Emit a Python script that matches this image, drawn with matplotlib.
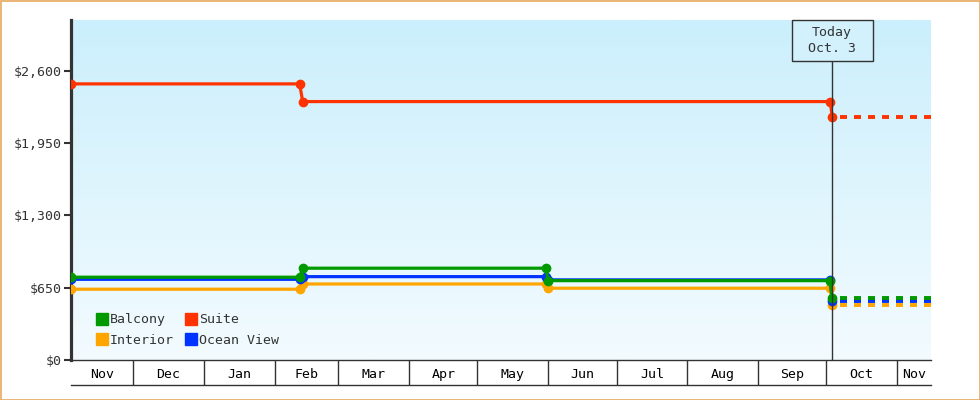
import numpy as np
import matplotlib
matplotlib.use("Agg")
import matplotlib.pyplot as plt
import matplotlib.dates as mdates
from matplotlib.lines import Line2D
from matplotlib.patches import Rectangle
from datetime import datetime

# chart window and today marker
x_start = datetime(2014, 11, 3, 17)
x_end = datetime(2015, 11, 15, 22)
today = datetime(2015, 10, 3, 14)
today_label = "Today\nOct. 3"

# price change points (old value on first day, new value on next)
dates = [datetime(2014, 11, 3, 17), datetime(2015, 2, 12), datetime(2015, 2, 13, 8),
         datetime(2015, 5, 31), datetime(2015, 6, 1), datetime(2015, 10, 2, 18),
         datetime(2015, 10, 3, 14)]
suite_dates = [datetime(2014, 11, 3, 17), datetime(2015, 2, 12), datetime(2015, 2, 13, 8),
               datetime(2015, 10, 2, 18), datetime(2015, 10, 3, 14)]

suite = [2481, 2481, 2322, 2322, 2182]
interior = [636, 636, 683, 683, 645, 645, 494]
ocean_view = [725, 725, 749, 749, 720, 720, 530]
balcony = [744, 744, 825, 825, 713, 713, 555]

months = ["Nov", "Dec", "Jan", "Feb", "Mar", "Apr", "May", "Jun", "Jul", "Aug", "Sep", "Oct", "Nov"]
month_starts = [datetime(2014, 11, 1)] + [datetime(2014 + (10 + i) // 12, (10 + i) % 12 + 1, 1) for i in range(1, 13)]

yticks = [0, 650, 1300, 1950, 2600]
ymax = 3055

colors = {"Balcony": "#009a00", "Suite": "#ff3300", "Interior": "#ffa500", "Ocean View": "#0033ff"}
dark = "#333333"
font = "DejaVu Sans Mono"
fs = 9.5

fig = plt.figure(figsize=(9.8, 4), dpi=100)
ax = fig.add_axes([71 / 980, 40 / 400, 860 / 980, 340 / 400])

x0, x1 = mdates.date2num(x_start), mdates.date2num(x_end)
ax.set_xlim(x0, x1)
ax.set_ylim(0, ymax)

# gradient background
grad = np.linspace(0, 1, 256).reshape(-1, 1)
top_c = np.array([203, 239, 252]) / 255
bot_c = np.array([243, 251, 255]) / 255
img = top_c * (1 - grad[..., None]) + bot_c * grad[..., None]
ax.imshow(img, extent=[x0, x1, 0, ymax], aspect="auto", zorder=0)

# series: solid history + dashed forward price
series = [("Suite", suite_dates, suite), ("Interior", dates, interior),
          ("Ocean View", dates, ocean_view), ("Balcony", dates, balcony)]
for i, (name, d, v) in enumerate(series):
    c = colors[name]
    dn = mdates.date2num(d)
    ax.plot(dn, v, color=c, lw=2.3, marker="o", ms=6, mec=c, zorder=3 + i,
            solid_capstyle="butt")
    ax.plot([dn[-1] + 3.5, x1], [v[-1], v[-1]], color=c, lw=2.8,
            linestyle=(0, (1.8, 1.8)), zorder=3 + i, dash_capstyle="butt")

# today line + box
tn = mdates.date2num(today)
ax.axvline(tn, color=dark, lw=1, zorder=10)
fig.canvas.draw()
xd = ax.transData.transform((tn, 0))[0]
top_px = fig.bbox.height - 20
box_w, box_h = 81, 41
fig.patches.append(Rectangle((xd - box_w / 2, top_px - box_h), box_w, box_h,
                             transform=None, facecolor="#d2f1fc", edgecolor=dark,
                             lw=1, zorder=20))
fig.text(xd / 980, (top_px - box_h / 2) / 400, today_label, ha="center", va="center",
         fontsize=fs, family=font, color=dark, linespacing=1.35, zorder=21)

# axes styling
for s in ["top", "right"]:
    ax.spines[s].set_visible(False)
ax.spines["left"].set_color(dark)
ax.spines["left"].set_linewidth(2.3)
ax.spines["bottom"].set_color(dark)
ax.spines["bottom"].set_linewidth(1)
ax.set_yticks(yticks)
ax.set_yticklabels([f"${v:,}" for v in yticks], family=font, fontsize=fs, color=dark)
ax.tick_params(axis="y", length=5, width=1.5, color=dark, pad=2)

# month band under the axis
bounds = [mdates.date2num(m) for m in month_starts]
inner = [b for b in bounds if x0 < b < x1]
ax.set_xticks(inner)
ax.set_xticklabels([])
ax.tick_params(axis="x", which="major", length=18, width=1, color=dark, direction="out")
centers, labels = [], []
for i, m in enumerate(months):
    a = max(bounds[i], x0)
    b = min(bounds[i + 1] if i + 1 < len(bounds) else x1, x1)
    if b > a:
        centers.append((a + b) / 2)
        labels.append(m)
ax.set_xticks(centers, minor=True)
ax.set_xticklabels(labels, minor=True, family=font, fontsize=fs, color="black")
ax.tick_params(axis="x", which="minor", length=0, pad=6)
ax.add_line(Line2D([0, 1], [-25 / 340, -25 / 340], transform=ax.transAxes,
                   color=dark, lw=1, clip_on=False))

# legend
handles = [Line2D([], [], marker="s", ls="", ms=8, color=colors[n], mec=colors[n])
           for n in ["Balcony", "Interior", "Suite", "Ocean View"]]
leg = ax.legend(handles, ["Balcony", "Interior", "Suite", "Ocean View"], ncol=2,
                loc="lower left", bbox_to_anchor=(0.021, 0.02), frameon=False,
                prop={"family": font, "size": fs}, handlelength=0.9,
                handletextpad=0.2, columnspacing=0.8, labelspacing=0.55, borderpad=0)
for t in leg.get_texts():
    t.set_color(dark)

# orange frame round the figure
fig.patches.append(Rectangle((0.5, 0.5), 979, 399, transform=None, fill=False,
                             edgecolor="#e8a860", lw=1.2, zorder=30))

fig.savefig("out.png", dpi=100)
